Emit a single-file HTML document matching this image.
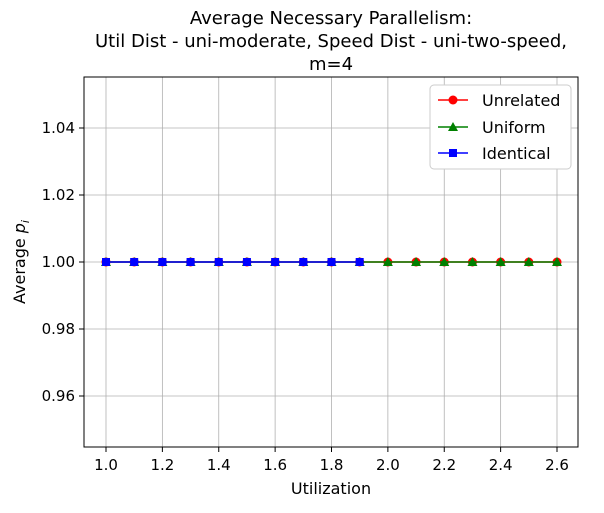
<!DOCTYPE html>
<html><head><meta charset="utf-8"><style>
body{margin:0;background:#fff;font-family:"Liberation Sans","DejaVu Sans",sans-serif;}
svg text{font-family:"DejaVu Sans","Liberation Sans",sans-serif;}
</style></head><body>
<svg id="chart" width="604" height="508" xmlns="http://www.w3.org/2000/svg">
<g font-size="18" text-anchor="middle" fill="#000">
<text x="331" y="24">Average Necessary Parallelism:</text>
<text x="331" y="47">Util Dist - uni-moderate, Speed Dist - uni-two-speed,</text>
<text x="331" y="70">m=4</text>
</g>
<g id="grid"></g>
<g id="axes"></g>
<g id="series"></g>
<rect x="84" y="77" width="494" height="370" fill="none" stroke="#000" stroke-width="1"/>
<text x="331" y="494" font-size="16" text-anchor="middle">Utilization</text>
<text transform="translate(25,262) rotate(-90)" font-size="16" text-anchor="middle">Average <tspan font-style="italic">p</tspan><tspan font-style="italic" font-size="11" dy="4">i</tspan></text>
<g>
<rect x="430" y="85" width="141" height="84" rx="4" fill="#fff" stroke="#ccc"/>
<g><line x1="438" y1="100" x2="468" y2="100" stroke="red" stroke-width="1.5"/><circle cx="453" cy="100" r="4.5" fill="red"/><text x="482" y="106" font-size="16">Unrelated</text></g>
<g><line x1="438" y1="127" x2="468" y2="127" stroke="green" stroke-width="1.5"/><polygon points="453,122 458,131 448,131" fill="green"/><text x="482" y="133" font-size="16">Uniform</text></g>
<g><line x1="438" y1="153" x2="468" y2="153" stroke="blue" stroke-width="1.5"/><rect x="449" y="149" width="8" height="8" fill="blue"/><text x="482" y="159" font-size="16">Identical</text></g>
</g>
</svg>
<script>
const xUnrelated=[1.0,1.1,1.2,1.3,1.4,1.5,1.6,1.7,1.8,1.9,2.0,2.1,2.2,2.3,2.4,2.5,2.6];
const yUnrelated=[1,1,1,1,1,1,1,1,1,1,1,1,1,1,1,1,1];
const xUniform=[1.0,1.1,1.2,1.3,1.4,1.5,1.6,1.7,1.8,1.9,2.0,2.1,2.2,2.3,2.4,2.5,2.6];
const yUniform=[1,1,1,1,1,1,1,1,1,1,1,1,1,1,1,1,1];
const xIdentical=[1.0,1.1,1.2,1.3,1.4,1.5,1.6,1.7,1.8,1.9];
const yIdentical=[1,1,1,1,1,1,1,1,1,1];
const xTicks=[1.0,1.2,1.4,1.6,1.8,2.0,2.2,2.4,2.6];
const yTicks=[0.96,0.98,1.00,1.02,1.04];
const NS="http://www.w3.org/2000/svg";
const X=v=>106+(v-1.0)*(557-106)/1.6;
const Y=v=>262-(v-1.0)*3350;
function mk(p,t,a){const e=document.createElementNS(NS,t);for(const k in a)e.setAttribute(k,a[k]);p.appendChild(e);return e;}
const grid=document.getElementById('grid'),axes=document.getElementById('axes'),ser=document.getElementById('series');
xTicks.forEach(v=>{const x=X(v);
const g=mk(grid,'line',{x1:x,x2:x,y1:77,y2:447,stroke:'#b0b0b0','stroke-width':0.8});

mk(axes,'line',{x1:x,x2:x,y1:447,y2:452,stroke:'#000'});
const t=mk(axes,'text',{x:x,y:470,'font-size':15,'text-anchor':'middle'});t.textContent=v.toFixed(1);
});
yTicks.forEach(v=>{const y=Y(v);
const g=mk(grid,'line',{x1:84,x2:578,y1:y,y2:y,stroke:'#b0b0b0','stroke-width':0.8});

mk(axes,'line',{x1:79,x2:84,y1:y,y2:y,stroke:'#000'});
const t=mk(axes,'text',{x:75,y:y+5,'font-size':15,'text-anchor':'end'});t.textContent=v.toFixed(2);
});
function series(xs,ys,color,shape,name){
const g=mk(ser,'g',{});


mk(g,'polyline',{points:xs.map((x,i)=>X(x)+','+Y(ys[i])).join(' '),fill:'none',stroke:color,'stroke-width':1.5});
xs.forEach((x,i)=>{const cx=X(x),cy=Y(ys[i]);let m;
if(shape==='o')m=mk(g,'circle',{cx:cx,cy:cy,r:4.5,fill:color});
else if(shape==='^')m=mk(g,'polygon',{points:`${cx},${cy-5} ${cx+5},${cy+4} ${cx-5},${cy+4}`,fill:color});
else m=mk(g,'rect',{x:cx-4,y:cy-4,width:8,height:8,fill:color});

});}
series(xUnrelated,yUnrelated,'red','o','series-unrelated');
series(xUniform,yUniform,'green','^','series-uniform');
series(xIdentical,yIdentical,'blue','s','series-identical');
</script>
</body></html>
